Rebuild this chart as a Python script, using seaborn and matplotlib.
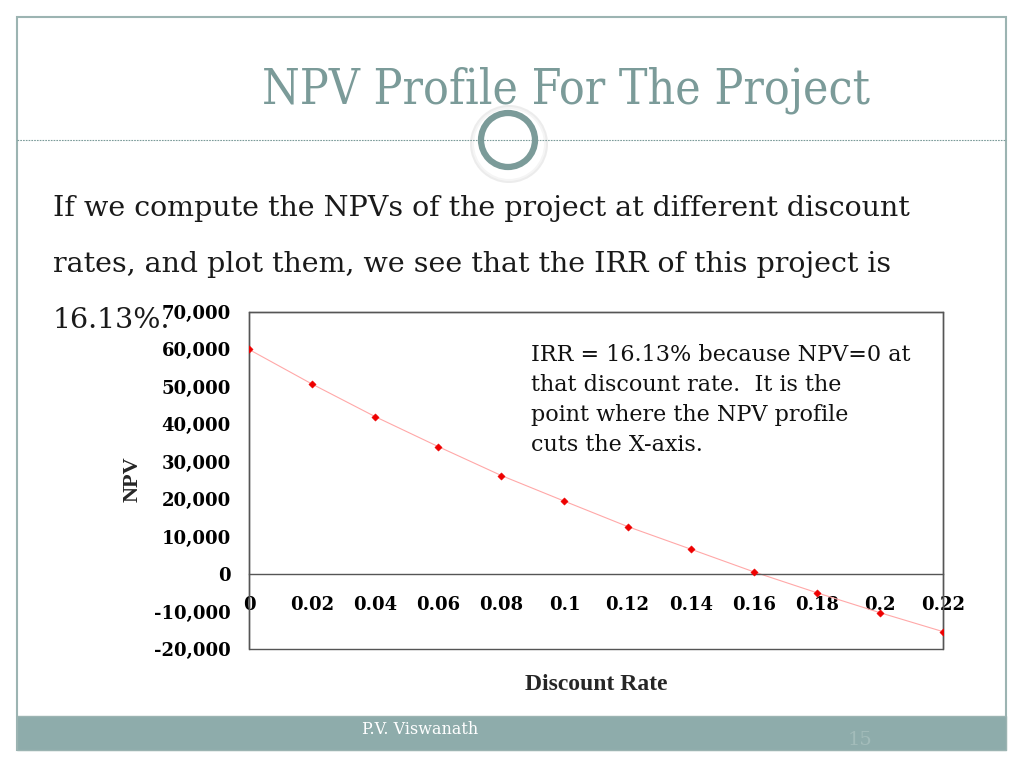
import matplotlib
matplotlib.use("Agg")
import matplotlib.pyplot as plt
import matplotlib.patches as mpatches
import matplotlib.lines as mlines
from matplotlib.ticker import FuncFormatter
import seaborn as sns

# NPV profile values
discount_rates = [0, 0.02, 0.04, 0.06, 0.08, 0.10, 0.12, 0.14, 0.16, 0.18, 0.20, 0.22]
npv_values = [60000, 50750, 42050, 34050, 26320, 19470, 12710, 6680, 610, -4970, -10300, -15360]
x_ticks = [0, 0.02, 0.04, 0.06, 0.08, 0.1, 0.12, 0.14, 0.16, 0.18, 0.2, 0.22]
x_tick_labels = ["0", "0.02", "0.04", "0.06", "0.08", "0.1", "0.12", "0.14", "0.16", "0.18", "0.2", "0.22"]
y_ticks = [-20000, -10000, 0, 10000, 20000, 30000, 40000, 50000, 60000, 70000]

title = "NPV Profile For The Project"
body_lines = [
    "If we compute the NPVs of the project at different discount",
    "rates, and plot them, we see that the IRR of this project is",
    "16.13%.",
]
note = ("IRR = 16.13% because NPV=0 at\nthat discount rate.  It is the\n"
        "point where the NPV profile\ncuts the X-axis.")

W, H = 1024, 768
teal = "#7b9b99"
frame = "#9cb4b2"
serif = ["DejaVu Serif"]

sns.set_theme(style="white")
plt.rcParams["font.family"] = serif

fig = plt.figure(figsize=(W / 100, H / 100), dpi=100)
fig.patch.set_facecolor("white")


def fx(px):
    return px / W


def fy(py):
    return 1 - py / H


# slide frame
fig.patches.append(mpatches.Rectangle((fx(17), fy(750)), fx(1006) - fx(17), fy(17) - fy(750),
                                      transform=fig.transFigure, fill=False, edgecolor=frame, lw=1.5))
# footer band
fig.patches.append(mpatches.Rectangle((fx(17), fy(750)), fx(1006) - fx(17), fy(716) - fy(750),
                                      transform=fig.transFigure, facecolor="#8eacab", edgecolor=frame, lw=1))
# dashed rule under title
fig.lines.append(mlines.Line2D([fx(17), fx(1006)], [fy(140), fy(140)], transform=fig.transFigure,
                               color=teal, lw=0.8, ls=(0, (1.5, 1))))
# circle ornament with soft shadow
for r, c in [(39, "#ececec"), (37, "#f5f5f5"), (35, "white")]:
    fig.patches.append(mpatches.Ellipse((fx(509), fy(144)), 2 * r / W, 2 * r / H,
                                        transform=fig.transFigure, facecolor=c, edgecolor="none"))
fig.patches.append(mpatches.Ellipse((fx(508), fy(140)), 54 / W, 54 / H, transform=fig.transFigure,
                                    facecolor="white", edgecolor=teal, lw=4.5))

fig.text(fx(566), fy(90), title, ha="center", va="center", color=teal, fontsize=34.5,
         family=serif, fontstretch="condensed")
for i, line in enumerate(body_lines):
    fig.text(fx(53), fy(208 + 56 * i), line, ha="left", va="center", color="#1a1a1a", fontsize=20.5)

fig.text(fx(362), fy(730), "P.V. Viswanath", ha="left", va="center", color="white", fontsize=11.5)
fig.text(fx(860), fy(740), "15", ha="center", va="center", color="#a3bcba", fontsize=14)

# chart
ax = fig.add_axes([fx(249), fy(649), fx(943) - fx(249), fy(312) - fy(649)])
ax.set_facecolor("white")
sns.lineplot(x=discount_rates, y=npv_values, ax=ax, color="#ffa8a8", lw=0.8)
sns.scatterplot(x=discount_rates, y=npv_values, ax=ax, marker="D", s=14, color="#ee0000",
                edgecolor="#ee0000", zorder=5)

ax.set_xlim(0, 0.22)
ax.set_ylim(-20000, 70000)
ax.set_xticks(x_ticks)
ax.set_xticklabels(x_tick_labels)
ax.set_yticks(y_ticks)
ax.yaxis.set_major_formatter(FuncFormatter(lambda v, p: f"{int(v):,}"))

ax.spines["bottom"].set_position(("data", 0))
for s in ax.spines.values():
    s.set_color("#555555")
    s.set_linewidth(1)
ax.add_patch(mpatches.Rectangle((0, 0), 1, 1, transform=ax.transAxes, fill=False,
                                edgecolor="#555555", lw=1, clip_on=False))

ax.tick_params(axis="x", direction="out", length=5, width=1, color="#555555", pad=11,
               labelsize=13)
ax.tick_params(axis="y", direction="out", length=5, width=1, color="#555555", pad=8,
               labelsize=13)
for lab in ax.get_xticklabels() + ax.get_yticklabels():
    lab.set_fontweight("bold")
    lab.set_color("black")

ax.set_xlabel("")
ax.set_ylabel("")
fig.text(fx(596), fy(685), "Discount Rate", ha="center", va="center", fontsize=17,
         fontweight="bold", family=["Liberation Serif"])
fig.text(fx(133), fy(479), "NPV", ha="center", va="center", fontsize=16, rotation=90,
         fontweight="bold", family=["Liberation Serif"])

ax.text((531 - 249) / (943 - 249), 1 - (344 - 312) / (649 - 312), note, transform=ax.transAxes,
        ha="left", va="top", fontsize=16, linespacing=1.48, color="#111111")

fig.savefig("out.png", dpi=100)
